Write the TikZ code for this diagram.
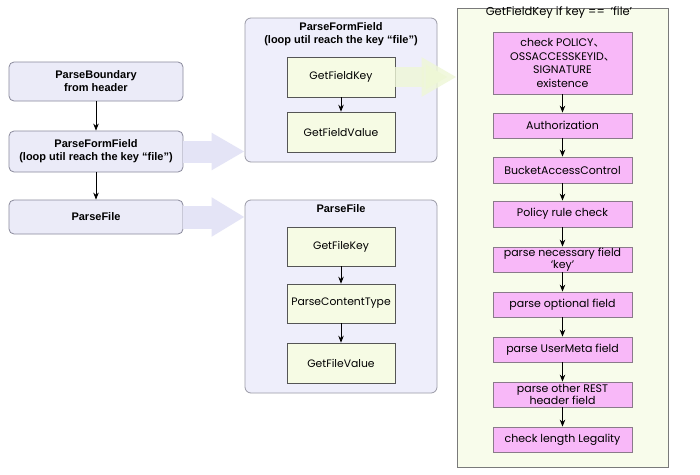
\documentclass[tikz,border=0pt]{standalone}
\usepackage{fontspec}
\setmainfont{Liberation Sans}
\newfontfamily\gothic{Poppins}
\newfontfamily\cjk{Noto Sans CJK SC}
\usetikzlibrary{arrows.meta}
\definecolor{leftfill}{HTML}{EBEBF8}
\definecolor{leftdraw}{HTML}{8A8A9C}
\definecolor{panelfill}{HTML}{EEEEFB}
\definecolor{paneldraw}{HTML}{9A9AA6}
\definecolor{innerfill}{HTML}{F6FBE4}
\definecolor{innerdraw}{HTML}{555555}
\definecolor{rightfill}{HTML}{F8FCEB}
\definecolor{rightdraw}{HTML}{7A7A7A}
\definecolor{pinkfill}{HTML}{F8B8F8}
\definecolor{pinkdraw}{HTML}{8A7A8A}
\definecolor{bigarrow}{HTML}{E4E4F6}
\definecolor{greenarrow}{HTML}{EEF7D6}
\begin{document}
\begin{tikzpicture}[x=1pt,y=-1pt,
  leftbox/.style={draw=leftdraw,fill=leftfill,rounded corners=5pt,line width=0.8pt,
    minimum width=174pt,align=center,font=\bfseries\fontsize{11}{13}\selectfont,inner sep=0pt},
  panel/.style={draw=paneldraw,fill=panelfill,rounded corners=6pt,line width=0.8pt,minimum width=192pt,inner sep=0pt},
  innerbox/.style={draw=innerdraw,fill=innerfill,line width=0.6pt,minimum width=108pt,inner sep=0pt,
    font=\gothic\fontsize{10.8}{13}\selectfont},
  pinkbox/.style={draw=pinkdraw,fill=pinkfill,line width=0.8pt,minimum width=139pt,inner sep=0pt,align=center,
    font=\gothic\fontsize{11}{11.5}\selectfont},
  titletext/.style={align=center,font=\bfseries\fontsize{11}{13}\selectfont,inner sep=0pt},
  flow/.style={-{Stealth[length=7pt,width=5.5pt]},line width=0.8pt,black},
]
\useasboundingbox (0,0) rectangle (700,474);
\fill[white] (0,0) rectangle (700,474);

% left column
\node[leftbox,minimum height=39pt] (pb) at (96,81.5) {ParseBoundary\\from header};
\node[leftbox,minimum height=41pt] (pff) at (96,151.5) {ParseFormField\\(loop util reach the key “file”)};
\node[leftbox,minimum height=34pt] (pf) at (96,217) {ParseFile};
\draw[flow] (pb) -- (pff);
\draw[flow] (pff) -- (pf);

% middle panels
\node[panel,minimum height=144pt] (ff) at (341,90) {};
\node[titletext] (fft) at (341,34) {ParseFormField\\(loop util reach the key “file”)};
\node[innerbox,minimum height=40pt] (gfk) at (341,77) {GetFieldKey};
\node[innerbox,minimum height=40pt] (gfv) at (341,132) {GetFieldValue};
\draw[flow] (gfk) -- (gfv);

\node[panel,minimum height=193pt] (pfl) at (341,296.5) {};
\node[titletext] (pflt) at (341,209) {ParseFile};
\node[innerbox,minimum height=39pt] (gk) at (341,246.5) {GetFileKey};
\node[innerbox,minimum height=39pt] (pct) at (341,303.5) {ParseContentType};
\node[innerbox,minimum height=40pt] (gv) at (341,363) {GetFileValue};
\draw[flow] (gk) -- (pct);
\draw[flow] (pct) -- (gv);

% big arrows
\draw[line width=22pt,draw=bigarrow,-{Triangle[length=33pt,width=35pt]}] (pff.east) -- (ff.west |- pff.east);
\draw[line width=23pt,draw=bigarrow,-{Triangle[length=33pt,width=37pt]}] (pf.east) -- (pfl.west |- pf.east);

% right panel
\node[draw=rightdraw,fill=rightfill,line width=0.8pt,minimum width=211pt,minimum height=459pt,inner sep=0pt] (rp) at (562.5,237.5) {};
\node[font=\gothic\fontsize{11.5}{13}\selectfont,inner sep=0pt] (rpt) at (559,13) {GetFieldKey if key ==\enspace ‘file’};

\draw[line width=20pt,draw=greenarrow,draw opacity=0.8,-{Triangle[length=35pt,width=37pt]}] (gfk.east) -- (rp.west |- gfk.east);

\node[pinkbox,minimum height=62pt,font=\gothic\fontsize{11}{13.5}\selectfont] (c1) at (562.5,63) {check POLICY{\cjk 、}\\OSSACCESSKEYID{\cjk 、}\\SIGNATURE\\existence};
\node[pinkbox,minimum height=25pt] (c2) at (562.5,125.5) {Authorization};
\node[pinkbox,minimum height=26pt] (c3) at (562.5,170) {BucketAccessControl};
\node[pinkbox,minimum height=26pt] (c4) at (562.5,214) {Policy rule check};
\node[pinkbox,minimum height=25pt] (c5) at (562.5,259.5) {parse necessary field\\‘key’};
\node[pinkbox,minimum height=25pt] (c6) at (562.5,304.5) {parse optional field};
\node[pinkbox,minimum height=25pt] (c7) at (562.5,349.5) {parse UserMeta field};
\node[pinkbox,minimum height=25pt] (c8) at (562.5,394.5) {parse other REST\\header field};
\node[pinkbox,minimum height=25pt] (c9) at (562.5,439.5) {check length Legality};
\foreach \a/\b in {c1/c2,c2/c3,c3/c4,c4/c5,c5/c6,c6/c7,c7/c8,c8/c9}
  \draw[flow] (\a) -- (\b);
\end{tikzpicture}
\end{document}
